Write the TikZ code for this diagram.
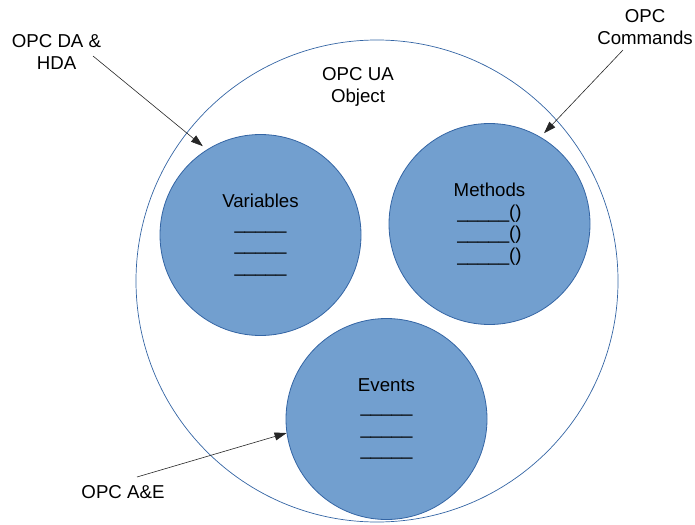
\documentclass[tikz,border=0pt]{standalone}
\usepackage{fontspec}
\setmainfont{Liberation Sans}
\usetikzlibrary{arrows.meta}
\definecolor{fillblue}{HTML}{729FCF}
\definecolor{edgeblue}{HTML}{3465A4}
\begin{document}
\begin{tikzpicture}[x=1pt,y=-1pt,
  font=\fontsize{18.67}{21.5}\selectfont,
  innerc/.style={circle,draw=edgeblue,fill=fillblue,line width=0.8pt,minimum size=201pt,inner sep=0pt,align=center},
  outerc/.style={circle,draw=edgeblue,line width=0.7pt,minimum size=482pt,inner sep=0pt},
  lab/.style={align=center,inner sep=0pt},
  arr/.style={-{Triangle[length=12pt,width=8pt]},line width=0.6pt,draw=black!85}]
\useasboundingbox (0,0) rectangle (695,524);
\node[outerc] (outer) at (377,281) {};
\node[lab] (title) at (358,87) {OPC UA\\Object};
\node[innerc] (var) at (260.5,235) {Variables\\\_\_\_\_\_\\\_\_\_\_\_\\\_\_\_\_\_};
\node[innerc] (meth) at (489.5,224) {Methods\\\_\_\_\_\_()\\\_\_\_\_\_()\\\_\_\_\_\_()};
\node[innerc] (ev) at (386.5,419) {Events\\\_\_\_\_\_\\\_\_\_\_\_\\\_\_\_\_\_};
\node[lab] (da) at (56.5,52) {OPC DA \&\\HDA};
\node[lab] (cmd) at (645,27) {OPC\\Commands};
\node[lab] (ae) at (123,492) {OPC A\&E};
\coordinate (daS) at (93,56);
\coordinate (cmdS) at (623,50);
\coordinate (aeS) at (137,477);
\draw[arr] (daS) -- ([shift={(123:5pt)}]var.123);
\draw[arr] (cmdS) -- ([shift={(59:5pt)}]meth.59);
\draw[arr] (aeS) -- (ev.188);
\end{tikzpicture}
\end{document}
